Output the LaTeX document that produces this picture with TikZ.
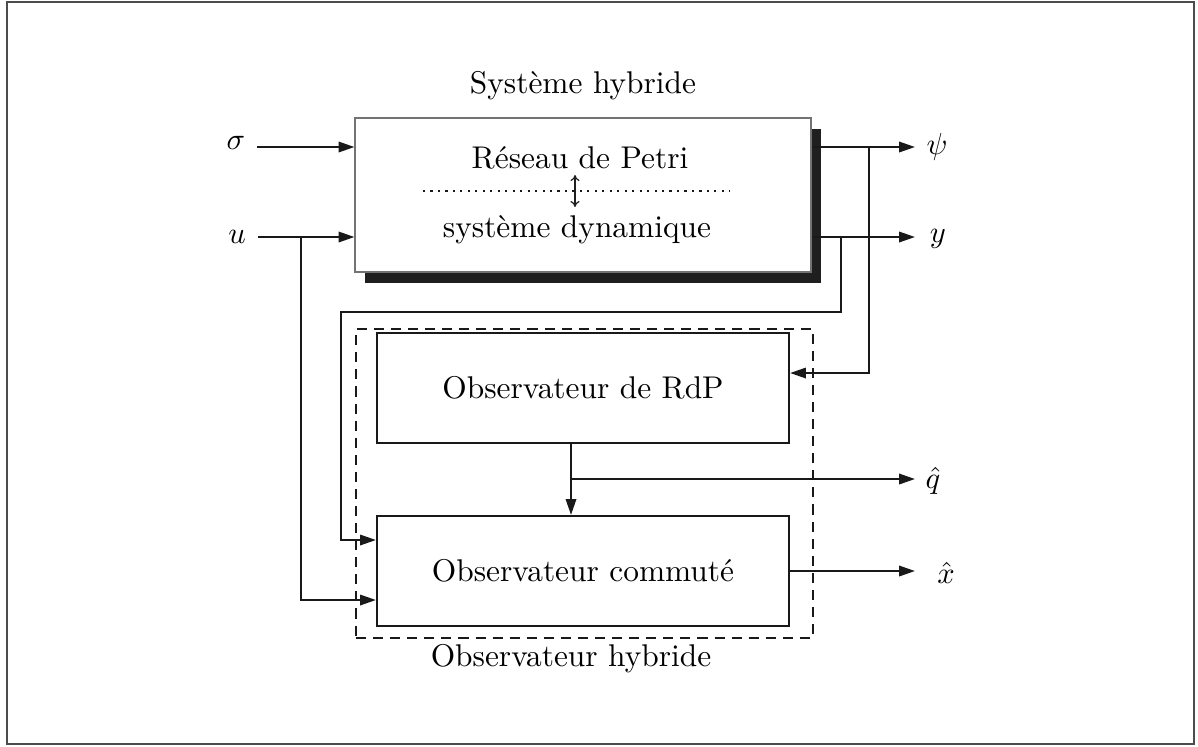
\documentclass[tikz,border=0pt]{standalone}
\usetikzlibrary{arrows.meta,shadows}
\def\u{0.328pt}
\begin{document}
\begin{tikzpicture}[x=0.328pt,y=-0.328pt,
  font=\fontsize{10.3}{12.4}\selectfont,
  wire/.style={draw=black!90, line width=0.7pt},
  arr/.style={wire,-{Triangle[length=5.2pt,width=3.4pt]}},
  blockbox/.style={draw=black!90, line width=0.7pt, minimum width=412*\u, minimum height=110*\u, inner sep=0},
  lbl/.style={inner sep=0}]
\useasboundingbox (0,0) rectangle (1198,746);
\draw[draw=black!70, line width=0.5pt] (7,2) rectangle (1194,744);

% hybrid system block
\node[draw=black!55, line width=0.35pt, fill=white, minimum width=456*\u, minimum height=154*\u, inner sep=0,
  drop shadow={shadow xshift=10*\u, shadow yshift=-11*\u, opacity=1, fill=black!88}] (sys) at (583,195) {};
\node[lbl] (hyb) at (583,86) {Système hybride};
\node[lbl] (petri) at (580,158) {Réseau de Petri};
\node[lbl] (dyn) at (577,230) {système dynamique};
\coordinate (dotL) at (423,191);
\coordinate (dotR) at (730,191);
\draw[black!90, line width=0.8pt, dash pattern=on 0.7pt off 1.75pt] (dotL) -- (dotR);
\coordinate (dbA) at (575,175);
\coordinate (dbB) at (575,207);
\draw[black!88, line width=0.4pt, {To[length=2pt,width=3pt]}-{To[length=2pt,width=3pt]}] (dbA) -- (dbB);

% inputs
\node[lbl] (sigma) at (236,143) {$\sigma$};
\node[lbl] (uin) at (237,237) {$u$};
\coordinate (sigstart) at (257,147);
\coordinate (ustart) at (258,237);
\draw[arr] (sigstart) -- (sys.west |- sigstart);
\draw[arr] (ustart) -- (sys.west |- ustart);

% outputs of system
\coordinate (psiend) at (915,147);
\coordinate (yend) at (915,237);
\node[lbl] (psi) at (937,147) {$\psi$};
\node[lbl] (yout) at (938,239) {$y$};
\draw[arr] (sys.east |- psiend) -- (psiend);
\draw[arr] (sys.east |- yend) -- (yend);

% hybrid observer
\node[draw=black!90, line width=0.7pt, dash pattern=on 3.3pt off 2.3pt, minimum width=457*\u, minimum height=309*\u, inner sep=0] (hbox) at (584.5,483.5) {};
\node[lbl] (hbl) at (571,659) {Observateur hybride};
\node[blockbox, fill=white] (rdp) at (583,388) {Observateur de RdP};
\node[blockbox, fill=white] (com) at (583,571) {Observateur commuté};

% feedback wires
\coordinate (tpsi) at (869,147);
\coordinate (ty) at (841,237);
\coordinate (yloop) at (341,312);
\coordinate (tu) at (301,237);
\draw[arr] (tpsi) |- ([yshift=15*\u]rdp.east);
\draw[arr] (ty) |- (yloop) |- ([yshift=31*\u]com.west);
\draw[arr] (tu) |- ([yshift=-29*\u]com.west);

% between observers
\draw[arr] ([xshift=-12*\u]rdp.south) -- ([xshift=-12*\u]com.north);
\coordinate (tq) at (571,479);
\coordinate (qend) at (915,479);
\node[lbl] (qhat) at (933,481) {$\hat{q}$};
\draw[arr] (tq) -- (qend);
\coordinate (xend) at (915,571);
\node[lbl] (xhat) at (946,573) {$\hat{x}$};
\draw[arr] (com.east) -- (xend);
\end{tikzpicture}
\end{document}
